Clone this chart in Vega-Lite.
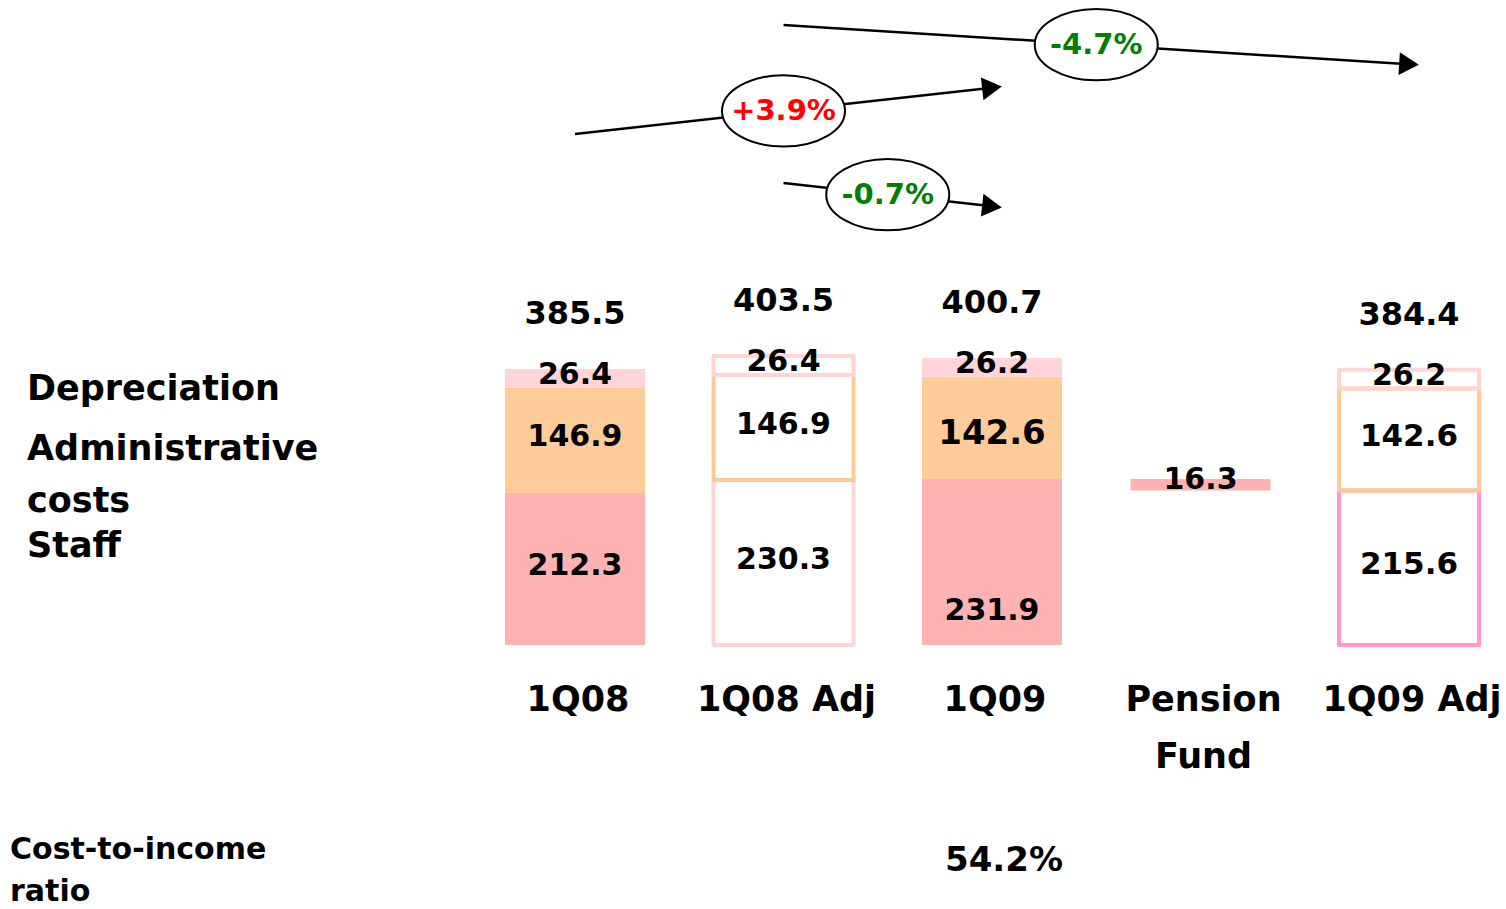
{
  "$schema": "https://vega.github.io/schema/vega-lite/v6.json",
  "width": 1506,
  "height": 909,
  "autosize": {"type": "none"},
  "padding": 0,
  "background": "white",
  "config": {
    "view": {"stroke": null},
    "axis": {"disable": true},
    "legend": {"disable": true},
    "locale": {"number": {"decimal": ".", "thousands": ",", "grouping": [3], "currency": ["", ""], "minus": "-"}},
    "text": {"font": "DejaVu Sans", "fontWeight": "bold", "color": "#000000"}
  },
  "datasets": {
    "segments": [
      {"period": "1Q08", "component": "Staff", "kind": "reported", "value": 212.3},
      {"period": "1Q08", "component": "Administrative costs", "kind": "reported", "value": 146.9},
      {"period": "1Q08", "component": "Depreciation", "kind": "reported", "value": 26.4},
      {"period": "1Q08 Adj", "component": "Staff", "kind": "adjusted", "value": 230.3},
      {"period": "1Q08 Adj", "component": "Administrative costs", "kind": "adjusted", "value": 146.9},
      {"period": "1Q08 Adj", "component": "Depreciation", "kind": "adjusted", "value": 26.4},
      {"period": "1Q09", "component": "Staff", "kind": "reported", "value": 231.9},
      {"period": "1Q09", "component": "Administrative costs", "kind": "reported", "value": 142.6},
      {"period": "1Q09", "component": "Depreciation", "kind": "reported", "value": 26.2},
      {"period": "Pension Fund", "component": "Staff", "kind": "base", "value": 215.6},
      {"period": "Pension Fund", "component": "Staff", "kind": "reported", "value": 16.3},
      {"period": "1Q09 Adj", "component": "Staff", "kind": "adjusted", "value": 215.6},
      {"period": "1Q09 Adj", "component": "Administrative costs", "kind": "adjusted", "value": 142.6},
      {"period": "1Q09 Adj", "component": "Depreciation", "kind": "adjusted", "value": 26.2}
    ],
    "totals": [
      {"period": "1Q08", "total": 385.5},
      {"period": "1Q08 Adj", "total": 403.5},
      {"period": "1Q09", "total": 400.7},
      {"period": "1Q09 Adj", "total": 384.4}
    ],
    "periods": [
      {"period": "1Q08"},
      {"period": "1Q08 Adj"},
      {"period": "1Q09"},
      {"period": "Pension Fund"},
      {"period": "1Q09 Adj"}
    ],
    "ratio": [
      {"period": "1Q09", "metric": "Cost-to-income ratio", "value": 0.542}
    ],
    "changes": [
      {"from": "1Q08", "to": "1Q09", "change": 0.039, "y_start": 713.5, "y_end": 778.3},
      {"from": "1Q08 Adj", "to": "1Q09", "change": -0.007, "y_start": 645.1, "y_end": 612.7},
      {"from": "1Q08 Adj", "to": "1Q09 Adj", "change": -0.047, "y_start": 865.8, "y_end": 811.1}
    ]
  },
  "layer": [
    {
      "data": {"name": "segments"},
      "transform": [
        {"stack": "value", "groupby": ["period"], "as": ["y0", "y1"]},
        {"filter": "datum.kind === 'reported'"}
      ],
      "mark": {"type": "bar"},
      "encoding": {
        "x": {
          "field": "period", "type": "nominal", "axis": null,
          "scale": {"type": "band", "domain": ["1Q08", "1Q08 Adj", "1Q09", "Pension Fund", "1Q09 Adj"], "range": [505, 1479], "paddingInner": 0.3285, "paddingOuter": 0}
        },
        "y": {
          "field": "y1", "type": "quantitative", "axis": null,
          "scale": {"type": "linear", "domain": [-368.7, 900.8], "nice": false, "zero": false}
        },
        "y2": {"field": "y0"},
        "color": {
          "field": "component", "type": "nominal", "legend": null,
          "scale": {"domain": ["Depreciation", "Administrative costs", "Staff"], "range": ["#FFD4D9", "#FFCC99", "#FFB2B2"]}
        }
      }
    },
    {
      "data": {"name": "segments"},
      "transform": [
        {"stack": "value", "groupby": ["period"], "as": ["y0", "y1"]},
        {"filter": "datum.kind === 'adjusted'"}
      ],
      "mark": {"type": "bar", "filled": false, "strokeWidth": 4, "strokeJoin": "round"},
      "encoding": {
        "x": {"field": "period", "type": "nominal", "axis": null},
        "y": {"field": "y1", "type": "quantitative", "axis": null},
        "y2": {"field": "y0"},
        "stroke": {
          "condition": {"test": "datum.period === '1Q09 Adj' && datum.component === 'Staff'", "value": "#FF99CC"},
          "field": "component", "type": "nominal", "legend": null,
          "scale": {"domain": ["Depreciation", "Administrative costs", "Staff"], "range": ["#FFD5D5", "#FFC992", "#FFD5D5"]}
        }
      }
    },
    {
      "data": {"name": "segments"},
      "transform": [
        {"stack": "value", "groupby": ["period"], "as": ["y0", "y1"]},
        {"filter": "datum.kind !== 'base'"},
        {"calculate": "(datum.y0 + datum.y1) / 2", "as": "mid"}
      ],
      "mark": {
        "type": "text", "baseline": "middle",
        "dy": {"expr": "datum.period === '1Q09' && datum.component === 'Staff' ? 49 : datum.period === '1Q09' && datum.component === 'Administrative costs' ? 6 : datum.period === 'Pension Fund' ? -5 : -3"}
      },
      "encoding": {
        "x": {"field": "period", "type": "nominal"},
        "y": {"field": "mid", "type": "quantitative"},
        "text": {"field": "value", "type": "quantitative", "format": ".1f"},
        "size": {
          "condition": [
            {"test": "datum.period === '1Q09' && datum.component === 'Administrative costs'", "value": 34},
            {"test": "datum.period === '1Q09 Adj' && datum.component !== 'Depreciation'", "value": 31}
          ],
          "value": 30
        }
      }
    },
    {
      "data": {"name": "totals"},
      "mark": {"type": "text", "baseline": "alphabetic", "dy": -45, "fontSize": 32},
      "encoding": {
        "x": {"field": "period", "type": "nominal"},
        "y": {"field": "total", "type": "quantitative"},
        "text": {"field": "total", "type": "quantitative", "format": ".1f"}
      }
    },
    {
      "data": {"name": "periods"},
      "mark": {"type": "text", "baseline": "alphabetic", "dy": 66, "dx": 3, "fontSize": 35, "lineHeight": 57},
      "encoding": {
        "x": {"field": "period", "type": "nominal"},
        "y": {"datum": 0, "type": "quantitative"},
        "text": {
          "condition": {"test": "datum.period === 'Pension Fund'", "value": ["Pension", "Fund"]},
          "field": "period"
        }
      }
    },
    {
      "data": {"name": "segments"},
      "transform": [
        {"stack": "value", "groupby": ["period"], "as": ["y0", "y1"]},
        {"filter": "datum.period === '1Q08'"},
        {"calculate": "(datum.y0 + datum.y1) / 2", "as": "mid"}
      ],
      "mark": {
        "type": "text", "align": "left", "baseline": "alphabetic", "lineBreak": " ", "lineHeight": 52, "fontSize": 35, "dx": -478,
        "dy": {"expr": "datum.component === 'Staff' ? -12 : datum.component === 'Depreciation' ? 22 : 20"}
      },
      "encoding": {
        "x": {"field": "period", "type": "nominal", "bandPosition": 0},
        "y": {"field": "mid", "type": "quantitative"},
        "text": {"field": "component"}
      }
    },
    {
      "data": {"name": "ratio"},
      "mark": {"type": "text", "baseline": "alphabetic", "dy": 226, "dx": 12, "fontSize": 34},
      "encoding": {
        "x": {"field": "period", "type": "nominal"},
        "y": {"datum": 0, "type": "quantitative"},
        "text": {"field": "value", "type": "quantitative", "format": ".1%"}
      }
    },
    {
      "data": {"name": "ratio"},
      "mark": {"type": "text", "align": "left", "baseline": "alphabetic", "lineBreak": " ", "lineHeight": 42, "fontSize": 30, "dx": -495, "dy": 214},
      "encoding": {
        "x": {"datum": "1Q08", "type": "nominal", "bandPosition": 0},
        "y": {"datum": 0, "type": "quantitative"},
        "text": {"field": "metric"}
      }
    },
    {
      "data": {"name": "changes"},
      "mark": {"type": "rule", "color": "#000000", "strokeWidth": 2.5},
      "encoding": {
        "x": {"field": "from", "type": "nominal"},
        "x2": {"field": "to"},
        "y": {"field": "y_start", "type": "quantitative"},
        "y2": {"field": "y_end"}
      }
    },
    {
      "data": {"name": "changes"},
      "mark": {
        "type": "point", "shape": "triangle-right", "filled": true, "fill": "#000000", "stroke": null, "opacity": 1, "size": 520,
        "angle": {"expr": "atan2(scale('y', datum.y_end) - scale('y', datum.y_start), scale('x', datum.to) - scale('x', datum.from)) * 180 / PI"}
      },
      "encoding": {
        "x": {"field": "to", "type": "nominal"},
        "y": {"field": "y_end", "type": "quantitative"}
      }
    },
    {
      "data": {"name": "changes"},
      "mark": {
        "type": "point", "shape": "M -1 0 A 1 0.58 0 1 1 1 0 A 1 0.58 0 1 1 -1 0 Z",
        "size": 15129, "filled": true, "fill": "#ffffff", "stroke": "#000000", "strokeWidth": 2, "opacity": 1
      },
      "encoding": {
        "x": {"value": {"expr": "(scale('x', datum.from) + scale('x', datum.to) + bandwidth('x')) / 2"}},
        "y": {"value": {"expr": "(scale('y', datum.y_start) + scale('y', datum.y_end)) / 2"}}
      }
    },
    {
      "data": {"name": "changes"},
      "mark": {"type": "text", "baseline": "middle", "fontSize": 29},
      "encoding": {
        "x": {"value": {"expr": "(scale('x', datum.from) + scale('x', datum.to) + bandwidth('x')) / 2"}},
        "y": {"value": {"expr": "(scale('y', datum.y_start) + scale('y', datum.y_end)) / 2"}},
        "text": {"field": "change", "type": "quantitative", "format": "+.1%"},
        "color": {"condition": {"test": "datum.change > 0", "value": "#FF0000"}, "value": "#008000"}
      }
    }
  ]
}
